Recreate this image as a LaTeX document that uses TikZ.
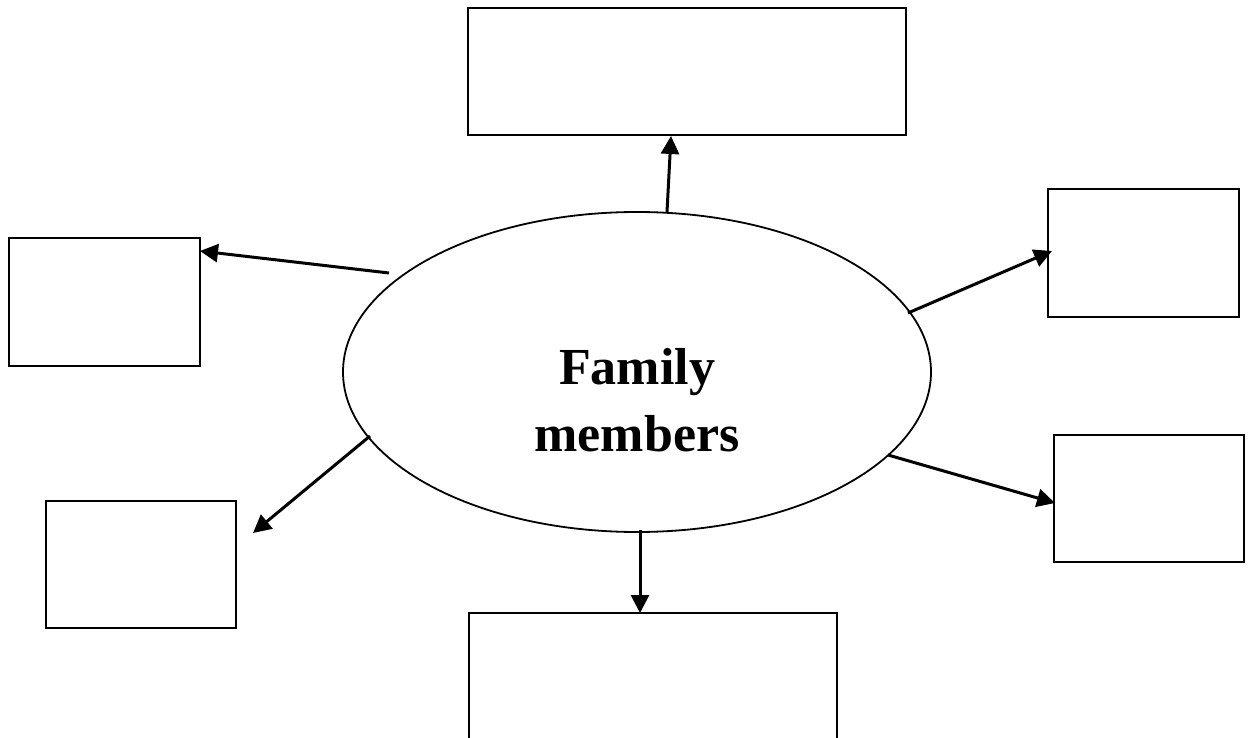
\documentclass[tikz,border=0pt]{standalone}
\usepackage{fontspec}
\setmainfont{Liberation Serif}
\usetikzlibrary{shapes.geometric,arrows.meta}
\tikzset{
box/.style={draw, rectangle, line width=2pt, inner sep=0pt},
link/.style={line width=3pt, -{Triangle[length=18pt,width=18pt]}}
}

\begin{document}
\begin{tikzpicture}[x=1pt, y=-1pt]
	\useasboundingbox (0,0) rectangle (1251,738);
	\clip (0,0) rectangle (1251,738);
	\node[draw, ellipse, line width=1.8pt, minimum width=588pt, minimum height=320pt,
		label={[yshift=-28pt, align=center, font=\bfseries\fontsize{52}{67}\selectfont]center:Family\\members}]
		(fam) at (637,372) {};
	\node[box, minimum width=438pt, minimum height=127pt] (top) at (687,71.5) {};
	\node[box, minimum width=191pt, minimum height=128pt] (leftup) at (104.5,302) {};
	\node[box, minimum width=191pt, minimum height=128pt] (rightup) at (1143.5,253) {};
	\node[box, minimum width=190pt, minimum height=127pt] (rightdown) at (1149,498.5) {};
	\node[box, minimum width=190pt, minimum height=127pt] (leftdown) at (141,564.5) {};
	\node[box, minimum width=368pt, minimum height=140pt] (bottom) at (653,683) {};
	% arrow ends
	\coordinate (s1) at (667,212); \coordinate (e1) at (671,136);
	\coordinate (s2) at (389,273); \coordinate (e2) at (200,251);
	\coordinate (s3) at (908,313); \coordinate (e3) at (1052,251);
	\coordinate (s4) at (888,455); \coordinate (e4) at (1055,503);
	\coordinate (s5) at (370,436); \coordinate (e5) at (253,533);
	\coordinate (s6) at (640,530); \coordinate (e6) at (640,613);
	\foreach \i in {1,...,6}
		\draw[link] (s\i) -- (e\i);
\end{tikzpicture}
\end{document}
